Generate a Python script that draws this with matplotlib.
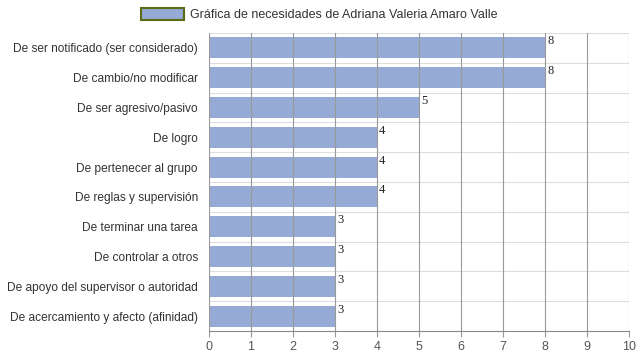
import matplotlib
matplotlib.use("Agg")
import matplotlib.pyplot as plt
from matplotlib.patches import Patch

plt.rcParams["font.family"] = ["Liberation Sans", "DejaVu Sans"]

categories = [
    "De ser notificado (ser considerado)",
    "De cambio/no modificar",
    "De ser agresivo/pasivo",
    "De logro",
    "De pertenecer al grupo",
    "De reglas y supervisión",
    "De terminar una tarea",
    "De controlar a otros",
    "De apoyo del supervisor o autoridad",
    "De acercamiento y afecto (afinidad)",
]
values = [8, 8, 5, 4, 4, 4, 3, 3, 3, 3]
series_name = "Gráfica de necesidades de Adriana Valeria Amaro Valle"

bar_color = "#95aad5"

fig = plt.figure(figsize=(6.39, 3.6), dpi=100)
ax = fig.add_axes([209 / 639, 29 / 360, 420 / 639, 298 / 360])

n = len(categories)
ypos = list(range(n))
ax.barh(ypos, values, height=0.7, color=bar_color, zorder=2)

ax.set_ylim(n - 0.5, -0.5)
ax.set_xlim(0, 10)
ax.set_xticks(range(0, 11))
ax.set_yticks(ypos)
ax.set_yticklabels(categories)
ax.tick_params(axis="y", length=0, pad=8, labelsize=8.6, labelcolor="#333333")
ax.tick_params(axis="x", length=4, color="#999999", labelsize=9, labelcolor="#555555")

# vertical grid drawn over bars
for xv in range(0, 11):
    ax.axvline(xv, color="#999999", lw=0.8, zorder=3)
# horizontal separators between categories
for k in range(n):
    ax.axhline(k - 0.5, color="#dddddd", lw=0.8, zorder=1)

for s in ["top", "right", "left"]:
    ax.spines[s].set_visible(False)
ax.spines["bottom"].set_color("#888888")
ax.spines["bottom"].set_zorder(4)

for y, v in zip(ypos, values):
    ax.text(v + 0.05, y - 0.22, str(v), family="Liberation Serif", fontsize=9,
            color="#222222", va="center", ha="left", zorder=5)

handle = Patch(facecolor=bar_color, edgecolor="#5c6b14", linewidth=1.5)
fig.legend([handle], [series_name], loc="upper center", bbox_to_anchor=(0.5, 1.01),
           frameon=False, fontsize=9, handlelength=3.4, handleheight=1.1,
           handletextpad=0.5, labelcolor="#333333")

fig.savefig("out.png", dpi=100)
